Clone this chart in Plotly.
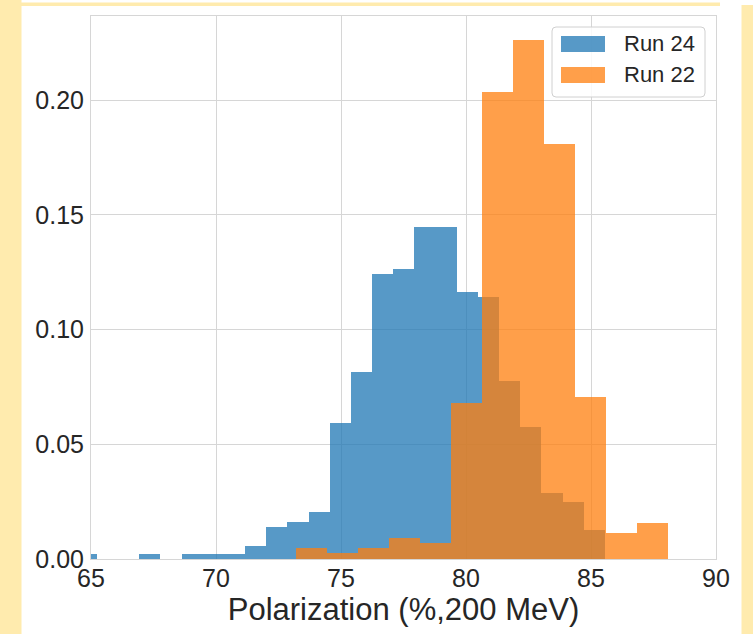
import plotly.graph_objects as go

# ---------------- data ----------------
series_names = ["Run 24", "Run 22"]

run24_bin_start = 64.389
run24_bin_width = 0.8466
run24_density = [0.0020, 0.0, 0.0, 0.0020, 0.0, 0.0020, 0.0020, 0.0020,
                 0.0058, 0.0141, 0.0160, 0.0204, 0.0593, 0.0813, 0.1241,
                 0.1262, 0.1448, 0.1448, 0.1162, 0.1141, 0.0775, 0.0574,
                 0.0286, 0.0248, 0.0125]

run22_bin_start = 73.187
run22_bin_width = 1.2424
run22_density = [0.0048, 0.0025, 0.0048, 0.0092, 0.0071, 0.0678, 0.2034,
                 0.2262, 0.1810, 0.0705, 0.0114, 0.0158]

x_ticks = [65, 70, 75, 80, 85, 90]
y_ticks = [0.00, 0.05, 0.10, 0.15, 0.20]
x_title = "Polarization (%,200 MeV)"

# ---------------- styling ----------------
W, H = 753, 634
ML, MR, MT, MB = 91, 37, 16, 75
PW, PH = W - ML - MR, H - MT - MB
BLUE = "rgba(31,119,180,0.75)"
ORANGE = "rgba(255,127,14,0.75)"
TEXT = "#262626"
GRID = "#d6d6d6"
YELLOW = "#FFEBAE"
FONT = "Liberation Sans, Arial, sans-serif"


def px(x):
    return (x - ML) / PW


def py(y):
    return (H - MB - y) / PH


def centers(start, width, n):
    return [start + width * (i + 0.5) for i in range(n)]


fig = go.Figure()
fig.add_trace(go.Bar(
    x=centers(run24_bin_start, run24_bin_width, len(run24_density)),
    y=run24_density, width=run24_bin_width, name=series_names[0],
    marker=dict(color=BLUE, line=dict(width=0)), showlegend=False))
fig.add_trace(go.Bar(
    x=centers(run22_bin_start, run22_bin_width, len(run22_density)),
    y=run22_density, width=run22_bin_width, name=series_names[1],
    marker=dict(color=ORANGE, line=dict(width=0)), showlegend=False))

shapes = []
# yellow frame around the white card
for (x0, y0, x1, y1) in [(0, 0, 21.5, H), (0, 2.5, 720, 6), (741.5, 5, W, H)]:
    shapes.append(dict(type="rect", xref="paper", yref="paper",
                       x0=px(x0), x1=px(x1), y0=py(y0), y1=py(y1),
                       fillcolor=YELLOW, line=dict(width=0), layer="below"))

# legend box (rounded)
lx0, lx1, ly0, ly1, r = 552, 705, 27, 97, 4
rx, ry = r / PW, r / PH
a, b, c, d = px(lx0), px(lx1), py(ly1), py(ly0)
path = (f"M{a+rx},{c} L{b-rx},{c} Q{b},{c} {b},{c+ry} L{b},{d-ry} "
        f"Q{b},{d} {b-rx},{d} L{a+rx},{d} Q{a},{d} {a},{d-ry} "
        f"L{a},{c+ry} Q{a},{c} {a+rx},{c} Z")
shapes.append(dict(type="path", xref="paper", yref="paper", path=path,
                   fillcolor="rgba(255,255,255,0.85)",
                   line=dict(color="#d0d0d0", width=1), layer="above"))
annotations = []
for i, (name, col) in enumerate(zip(series_names, [BLUE, ORANGE])):
    yc = 44 + i * 31
    shapes.append(dict(type="rect", xref="paper", yref="paper",
                       x0=px(561), x1=px(605), y0=py(yc + 8), y1=py(yc - 8),
                       fillcolor=col, line=dict(width=0), layer="above"))
    annotations.append(dict(xref="paper", yref="paper", x=px(622), y=py(yc),
                            text=name, showarrow=False, xanchor="left",
                            yanchor="middle",
                            font=dict(family=FONT, size=22, color=TEXT)))

fig.update_layout(
    width=W, height=H,
    margin=dict(l=ML, r=MR, t=MT, b=MB, pad=0),
    paper_bgcolor="white", plot_bgcolor="white",
    barmode="overlay", bargap=0,
    font=dict(family=FONT, color=TEXT),
    shapes=shapes, annotations=annotations,
    xaxis=dict(range=[65, 90], tickvals=x_ticks,
               ticktext=[str(v) for v in x_ticks],
               showgrid=True, gridcolor=GRID, gridwidth=1,
               showline=True, mirror=True, linecolor=GRID, linewidth=1,
               zeroline=False, ticks="", ticklabelstandoff=-3,
               tickfont=dict(family=FONT, size=25, color=TEXT),
               title=dict(text=x_title, standoff=4,
                          font=dict(family=FONT, size=31, color=TEXT))),
    yaxis=dict(range=[0, 0.2367], tickvals=y_ticks,
               ticktext=[f"{v:.2f}" for v in y_ticks],
               showgrid=True, gridcolor=GRID, gridwidth=1,
               showline=True, mirror=True, linecolor=GRID, linewidth=1,
               zeroline=False, ticks="", ticklabelstandoff=1,
               tickfont=dict(family=FONT, size=25, color=TEXT)),
)

fig.write_html("out.html")
